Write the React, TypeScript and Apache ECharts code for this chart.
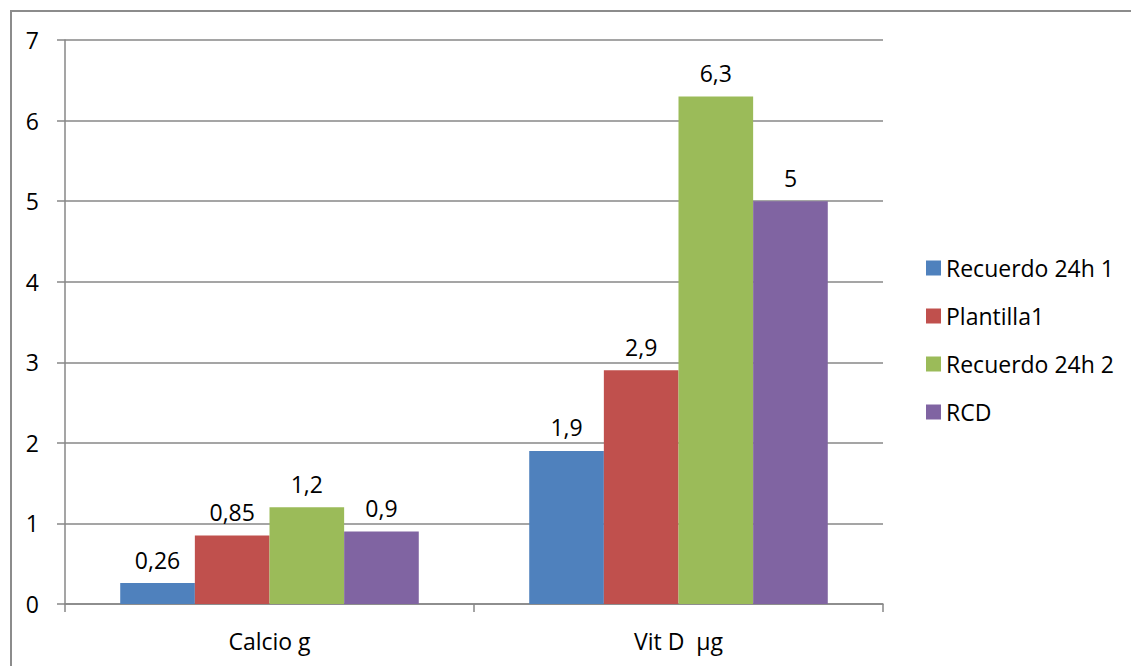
import React, { useEffect, useRef } from "react";
import * as echarts from "echarts";

const categories = ["Calcio g", "Vit D  µg"];
const seriesNames = ["Recuerdo 24h 1", "Plantilla1", "Recuerdo 24h 2", "RCD"];
const recuerdo1 = [0.26, 1.9];
const plantilla1 = [0.85, 2.9];
const recuerdo2 = [1.2, 6.3];
const rcd = [0.9, 5];
const yTicks = [0, 1, 2, 3, 4, 5, 6, 7];

const colors = ["#4F81BD", "#C0504D", "#9BBB59", "#8064A2"];
const FONT = "Open Sans";
const FS = 23;
const GRAY = "#878787";

export default function App() {
  const ref = useRef<HTMLDivElement>(null);

  useEffect(() => {
    if (!ref.current) return;
    const chart = echarts.init(ref.current, undefined, { renderer: "svg" });
    const values = [recuerdo1, plantilla1, recuerdo2, rcd];
    chart.setOption({
      animation: false,
      backgroundColor: "#ffffff",
      textStyle: { fontFamily: FONT },
      graphic: [
        {
          type: "rect",
          shape: { x: 11, y: 11, width: 1200, height: 800 },
          style: { fill: "none", stroke: "#8c8c8c", lineWidth: 2 },
          silent: true,
        },
      ],
      grid: { left: 65, right: 1131 - 883, top: 40, bottom: 666 - 604, containLabel: false },
      legend: {
        orient: "vertical",
        left: 926,
        top: 256,
        padding: 0,
        itemWidth: 15,
        itemHeight: 15,
        itemGap: 24,
        icon: "rect",
        data: seriesNames,
        textStyle: { fontFamily: FONT, fontSize: FS, color: "#000", lineHeight: 24 },
      },
      xAxis: {
        type: "category",
        data: categories,
        axisLine: { lineStyle: { color: GRAY, width: 1.5 } },
        axisTick: { show: true, length: 8, lineStyle: { color: GRAY, width: 1.5 } },
        axisLabel: { fontFamily: FONT, fontSize: FS, color: "#000", margin: 25 },
      },
      yAxis: {
        type: "value",
        min: yTicks[0],
        max: yTicks[yTicks.length - 1],
        interval: 1,
        axisLine: { show: true, lineStyle: { color: GRAY, width: 1.5 } },
        axisTick: { show: true, length: 8, lineStyle: { color: GRAY, width: 1.5 } },
        splitLine: { lineStyle: { color: GRAY, width: 1.5 } },
        axisLabel: { fontFamily: FONT, fontSize: FS, color: "#000", margin: 26 },
      },
      series: seriesNames.map((name, i) => ({
        name,
        type: "bar",
        data: values[i],
        barGap: "0%",
        barCategoryGap: "27%",
        itemStyle: { color: colors[i] },
        label: {
          show: true,
          position: "top",
          distance: 12,
          fontFamily: FONT,
          fontSize: FS,
          color: "#000",
          formatter: (p: any) => String(p.value).replace(".", ","),
        },
      })),
    });
    return () => chart.dispose();
  }, []);

  return (
    <div
      ref={ref}
      style={{ position: "fixed", left: 0, top: 0, width: 1131, height: 666 }}
    />
  );
}
